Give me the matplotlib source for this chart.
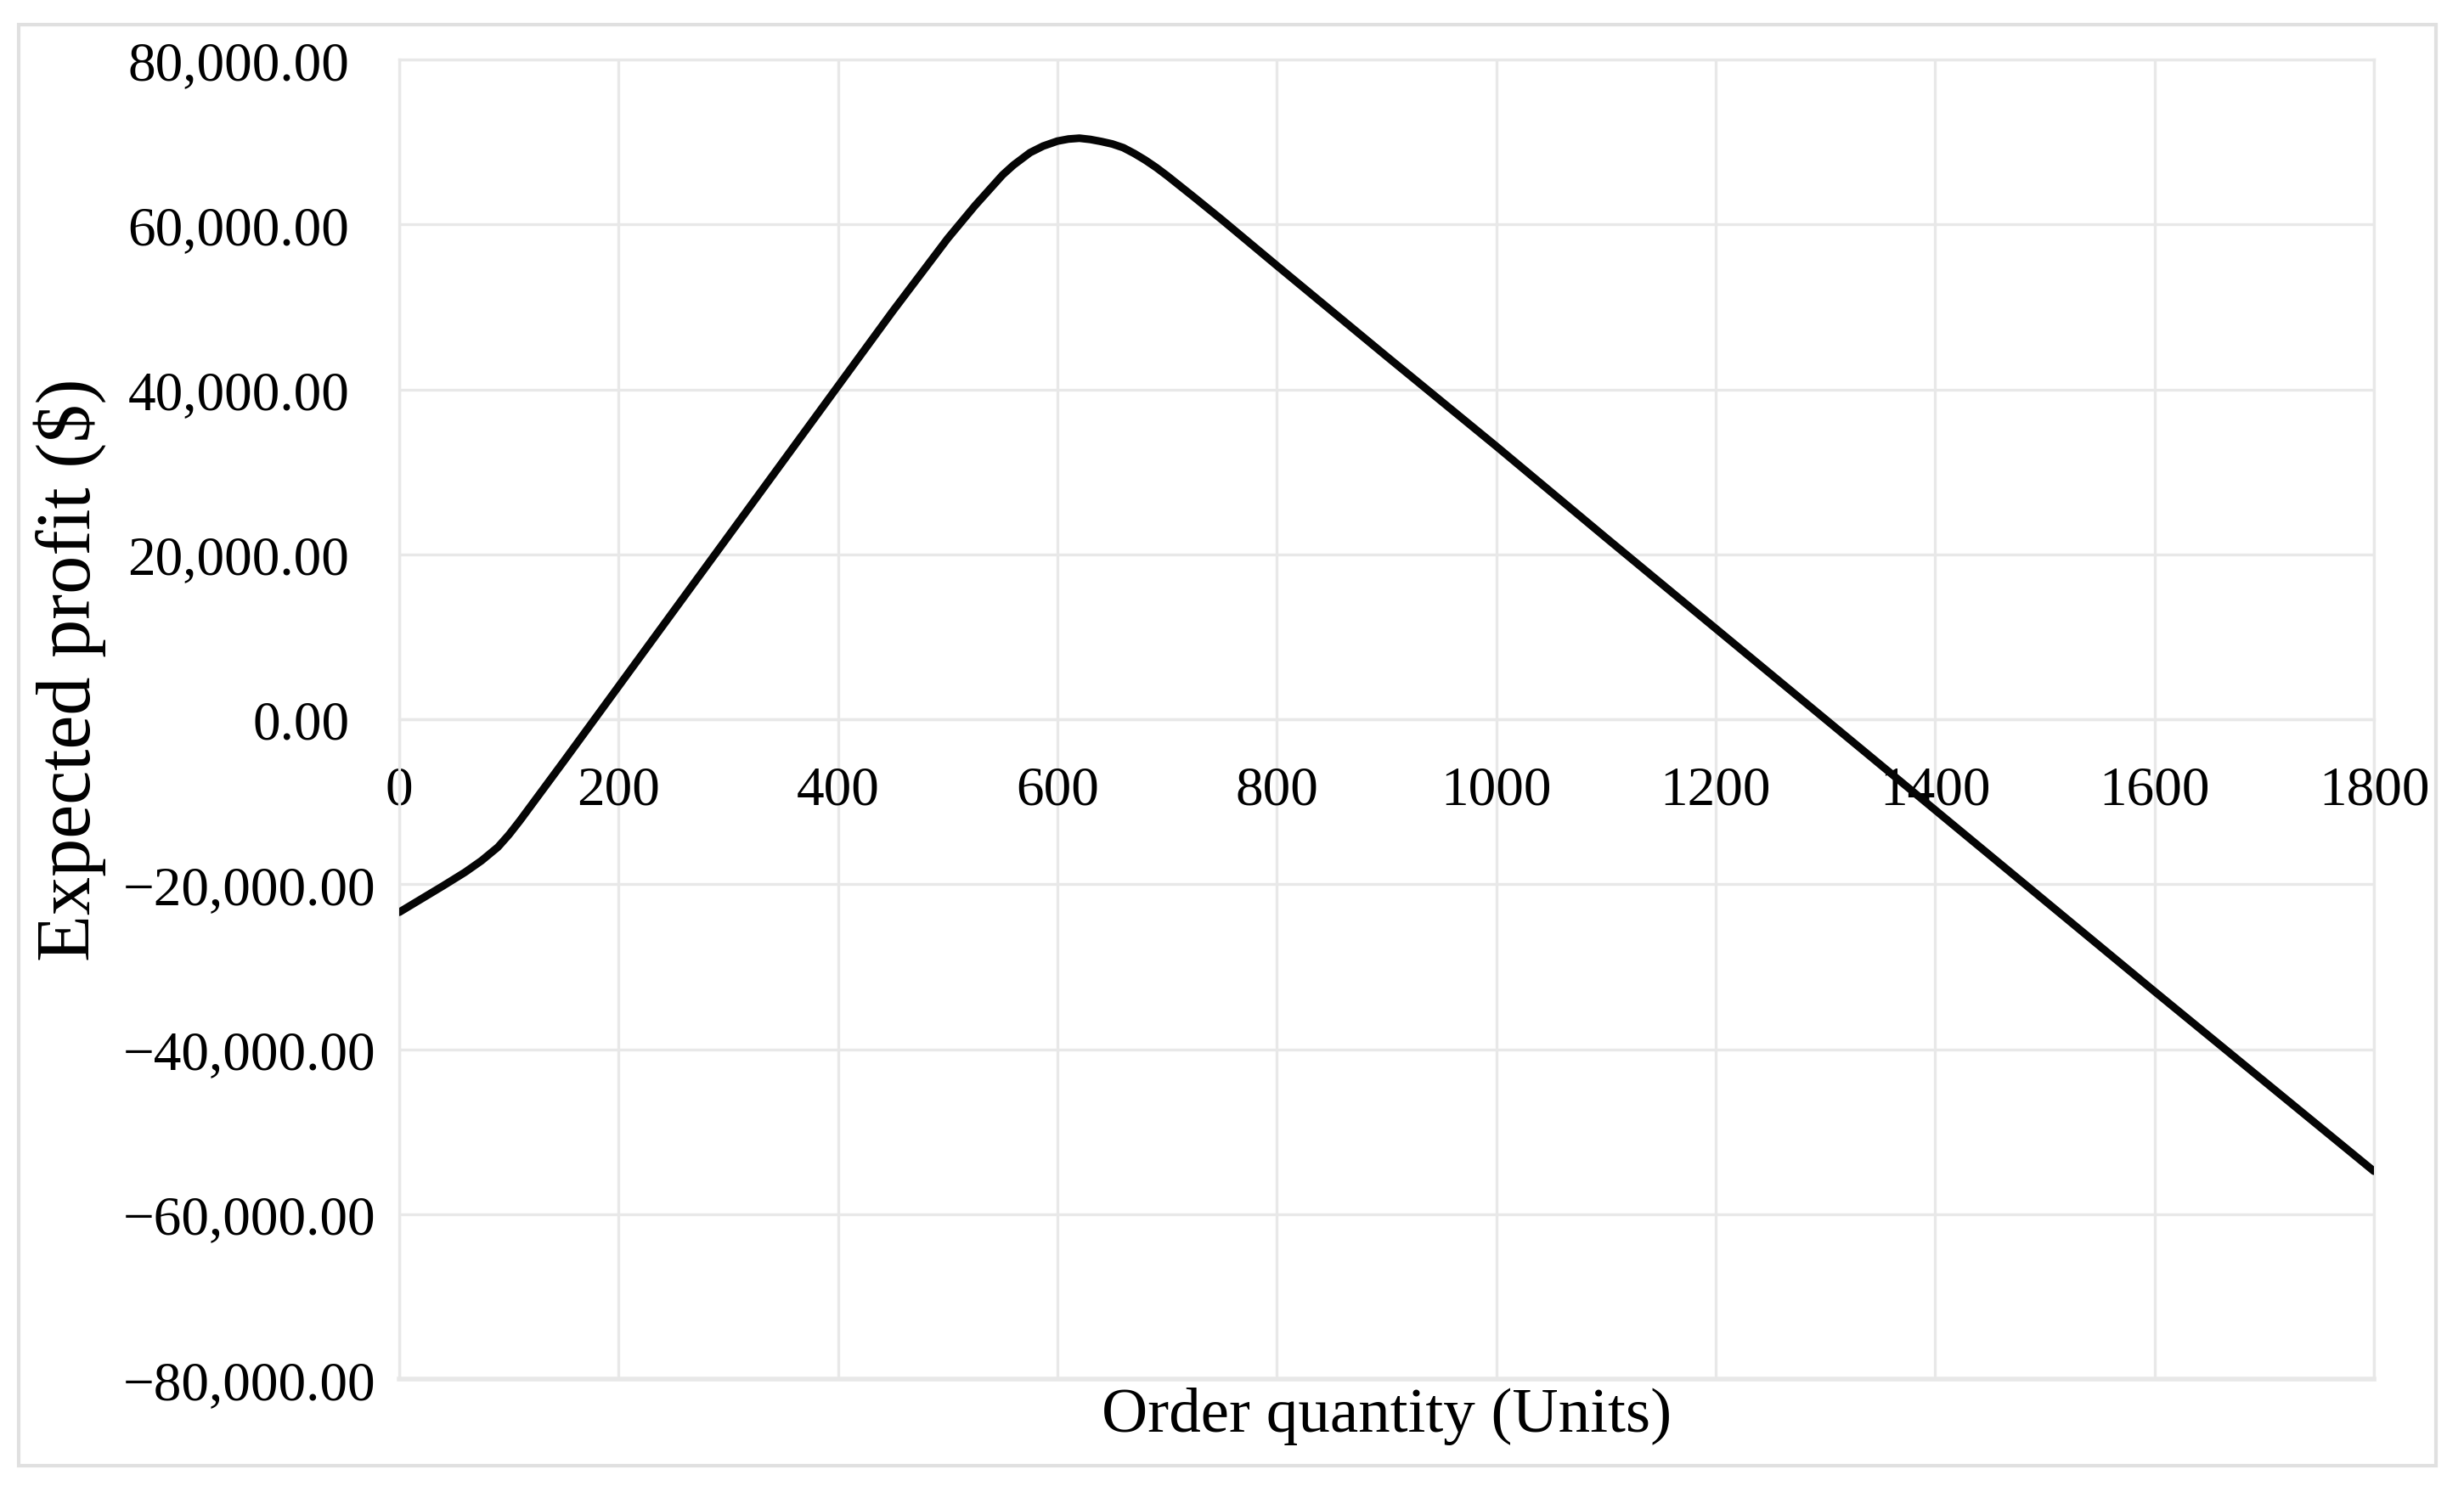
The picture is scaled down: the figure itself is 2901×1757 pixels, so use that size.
import matplotlib.pyplot as plt
from matplotlib.patches import Rectangle
from matplotlib.transforms import ScaledTranslation

plt.rcParams['font.family'] = ['Liberation Serif', 'DejaVu Serif']

# values
order_qty = [0, 20, 40, 60, 75, 90, 100, 110, 120, 135, 150, 175, 200, 250, 300,
             350, 400, 450, 500, 525, 550, 560, 575, 587, 600, 610, 620, 630, 640,
             650, 660, 670, 680, 690, 700, 725, 750, 800, 900, 1000, 1100, 1200,
             1300, 1400, 1500, 1600, 1700, 1800]
exp_profit = [-23400, -21800, -20200, -18550, -17150, -15500, -14000, -12300, -10500,
              -7800, -5100, -550, 4000, 13100, 22200, 31300, 40400, 49500, 58300,
              62300, 66000, 67200, 68700, 69500, 70100, 70350, 70450, 70300, 70050,
              69750, 69300, 68600, 67800, 66900, 65900, 63250, 60550, 55000, 44000,
              33100, 22000, 11000, 0, -11000, -22000, -33000, -43900, -54800]

x_ticks = [0, 200, 400, 600, 800, 1000, 1200, 1400, 1600, 1800]
y_ticks = [-80000, -60000, -40000, -20000, 0, 20000, 40000, 60000, 80000]


def money(v):
    s = f"{abs(v):,.2f}"
    return "\u2212" + s if v < 0 else s


grid_col = '#e8e8e8'

fig = plt.figure(figsize=(29.01, 17.58), dpi=100)
ax = fig.add_axes([470 / 2901, 1 - 1625 / 1758, 2325 / 2901, 1554 / 1758])

ax.plot(order_qty, exp_profit, color='#050505', lw=6.5,
        solid_capstyle='round', solid_joinstyle='round', zorder=3)

ax.set_xlim(0, 1800)
ax.set_ylim(-80000, 80000)
ax.set_xticks(x_ticks)
ax.set_yticks(y_ticks)
ax.set_yticklabels([money(v) for v in y_ticks])

ax.grid(True, color=grid_col, lw=2.4)
ax.set_axisbelow(True)
for s in ['top', 'right', 'left']:
    ax.spines[s].set_color(grid_col)
    ax.spines[s].set_linewidth(2.4)
ax.spines['bottom'].set_position(('data', 0))
ax.spines['bottom'].set_color(grid_col)
ax.spines['bottom'].set_linewidth(2.4)
ax.axhline(-80000, color=grid_col, lw=4, clip_on=False, zorder=1)

ax.tick_params(axis='both', length=0, labelsize=47, colors='black')
ax.tick_params(axis='x', pad=39)
ax.tick_params(axis='y', pad=20)

ax.set_xlabel('Order quantity (Units)', fontsize=54)
ax.xaxis.set_label_coords(0.5, -0.006)
ax.set_ylabel('Expected profit ($)', fontsize=65, va='center')
ax.yaxis.set_label_coords(-0.167, 0.538)

# positive labels sit a bit further left (trailing-space number format)
shift = ScaledTranslation(-0.31, 0, fig.dpi_scale_trans)
for lbl, v in zip(ax.get_yticklabels(), y_ticks):
    if v >= 0:
        lbl.set_transform(lbl.get_transform() + shift)

# light chart border
fig.patches.append(Rectangle((22 / 2901, 1 - 1727 / 1758), (2868 - 22) / 2901,
                             (1727 - 30) / 1758, transform=fig.transFigure,
                             fill=False, ec='#e0e0e0', lw=3))

fig.savefig('out.png', dpi=100)
